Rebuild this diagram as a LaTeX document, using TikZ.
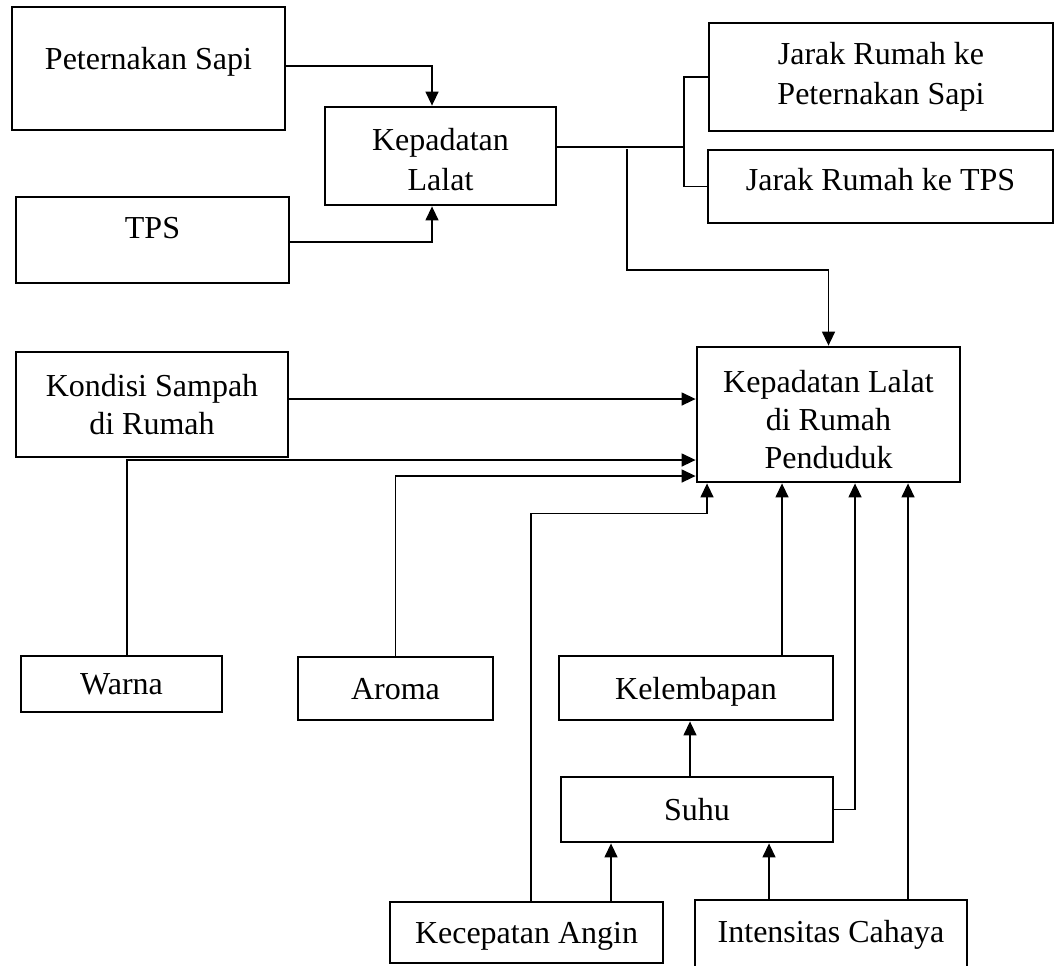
\documentclass[tikz,border=0pt]{standalone}
\usepackage{fontspec}
\setmainfont{Liberation Serif}
\usetikzlibrary{arrows.meta}
\tikzset{
  kotak/.style={draw, line width=1.4pt, align=center, inner sep=2pt,
    font=\fontsize{16}{20}\selectfont},
  garis/.style={line width=0.7pt},
  >={Triangle[length=7pt,width=6.5pt]}
}
\begin{document}
\begin{tikzpicture}[x=0.5pt,y=-0.5pt]
	\useasboundingbox (0,0) rectangle (1058,965);
	% atas
	\node (sapi) [kotak, text depth=10pt, minimum width=136.5pt, minimum height=61.5pt] at (148.5,68.5) {Peternakan Sapi};
	\node (tps) [kotak, text depth=12pt, minimum width=136.5pt, minimum height=43pt] at (152.5,240) {TPS};
	\node (kl) [kotak, minimum width=115.5pt, minimum height=49pt] at (440.5,156) {\rule{0pt}{15pt}Kepadatan\\Lalat};
	\node (jarak1) [kotak, minimum width=172pt, minimum height=54pt] at (881,77) {Jarak Rumah ke\\Peternakan Sapi};
	\node (jarak2) [kotak, text depth=7.5pt, minimum width=172.5pt, minimum height=36.5pt] at (880.5,186.5) {Jarak Rumah ke TPS};
	% tengah
	\node (kondisi) [kotak, minimum width=136pt, minimum height=52.5pt] at (152,404.5) {Kondisi Sampah\\[-1pt]di Rumah};
	\node (klr) [kotak, minimum width=131.5pt, minimum height=67.5pt] at (828.5,414.5) {\rule{0pt}{16pt}Kepadatan Lalat\\[-1pt]di Rumah\\[-1pt]Penduduk};
	% bawah
	\node (warna) [kotak, text depth=0pt, minimum width=100.5pt, minimum height=28pt] at (121.5,684) {Warna};
	\node (aroma) [kotak, text depth=0pt, minimum width=97.5pt, minimum height=31.5pt] at (395.5,688.5) {Aroma};
	\node (lembab) [kotak, text depth=0pt, minimum width=137pt, minimum height=32pt] at (696,688) {Kelembapan};
	\node (suhu) [kotak, text depth=0pt, minimum width=136pt, minimum height=32.5pt] at (697,809.5) {Suhu};
	\node (angin) [kotak, text depth=0pt, minimum width=136.5pt, minimum height=30.5pt] at (526.5,932.5) {Kecepatan Angin};
	\node (cahaya) [kotak, text depth=5pt, minimum width=136pt, minimum height=36pt] at (831,936) {Intensitas Cahaya};
	\coordinate (fork) at (684,147);
	\coordinate (branch) at (627,149);
	% panah
	\draw[garis,->] ([yshift=1.25pt]sapi.east) -| ([xshift=-4.25pt]kl.north);
	\draw[garis,->] ([yshift=-1pt]tps.east) -| ([xshift=-4.25pt]kl.south);
	\draw[garis] ([yshift=4.5pt]kl.east) -- (fork);
	\draw[garis] (jarak1.west) -| (fork) |- (jarak2.west);
	\draw[garis,->] (branch) -- ++(0,-60.5pt) -| (klr.north);
	\draw[garis,->] ([yshift=2.75pt]kondisi.east) -- ([yshift=2.75pt]kondisi.east -| klr.west);
	\draw[garis,->] ([xshift=2.75pt]warna.north) |- ([yshift=-22.75pt]klr.west);
	\draw[garis,->] (aroma.north) |- ([yshift=-30.75pt]klr.west);
	\draw[garis,->] ([xshift=2.25pt]angin.north) |- ([xshift=-60.75pt,yshift=-15pt]klr.south) -- ([xshift=-60.75pt]klr.south);
	\draw[garis,->] ([xshift=43pt]lembab.north) -- ([xshift=43pt]lembab.north |- klr.south);
	\draw[garis,->] (suhu.east) -| ([xshift=13.25pt]klr.south);
	\draw[garis,->] ([xshift=38.5pt]cahaya.north) -- ([xshift=38.5pt]cahaya.north |- klr.south);
	\draw[garis,->] ([xshift=-3.5pt]suhu.north) -- ([xshift=-3.5pt]suhu.north |- lembab.south);
	\draw[garis,->] ([xshift=42.25pt]angin.north) -- ([xshift=42.25pt]angin.north |- suhu.south);
	\draw[garis,->] ([xshift=-31pt]cahaya.north) -- ([xshift=-31pt]cahaya.north |- suhu.south);
\end{tikzpicture}
\end{document}
